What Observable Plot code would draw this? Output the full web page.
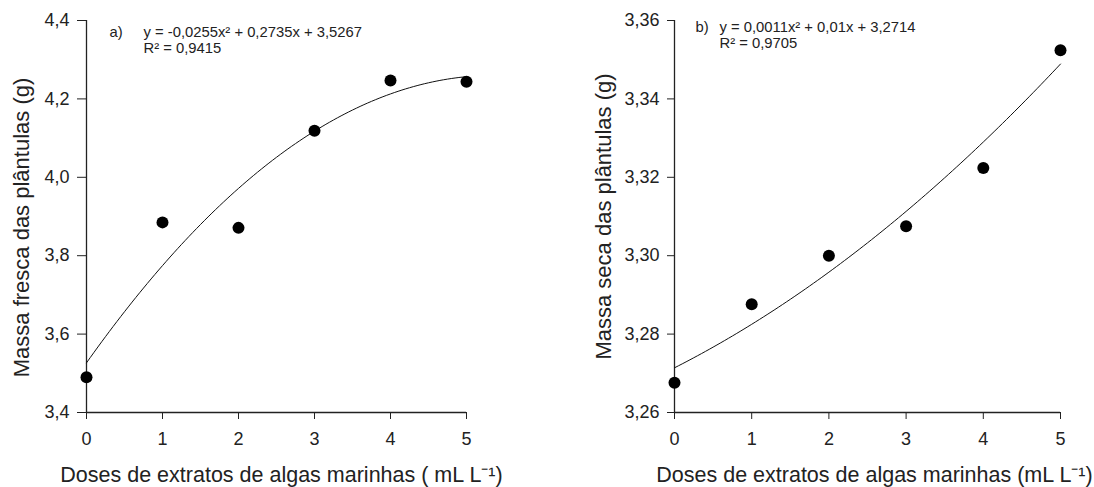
<!DOCTYPE html>
<html><head><meta charset="utf-8">
<script src="https://cdn.jsdelivr.net/npm/d3@7"></script>
<script src="https://cdn.jsdelivr.net/npm/@observablehq/plot@0.6"></script>
<style>
body{margin:0;background:#fff;}
#wrap{display:flex;width:1094px;height:487px;}
svg text{font-family:"Liberation Sans",Arial,sans-serif;}
</style></head><body><div id="wrap"></div>
<script>
const doses = [0, 1, 2, 3, 4, 5];
const fresca = [3.49, 3.885, 3.871, 4.119, 4.247, 4.244];
const seca = [3.2676, 3.2876, 3.300, 3.3075, 3.3224, 3.3524];
const coefA = [-0.0255, 0.2735, 3.5267];
const coefB = [0.0011, 0.01, 3.2714];
const ticksA = [3.4, 3.6, 3.8, 4.0, 4.2, 4.4];
const ticksB = [3.26, 3.28, 3.30, 3.32, 3.34, 3.36];
const xTicks = [0, 1, 2, 3, 4, 5];
const labelsA = ["a)", "y = -0,0255x² + 0,2735x + 3,5267", "R² = 0,9415"];
const labelsB = ["b)", "y = 0,0011x² + 0,01x + 3,2714", "R² = 0,9705"];
const yTitleA = "Massa fresca das plântulas (g)";
const yTitleB = "Massa seca das plântulas (g)";
const xTitleA = "Doses de extratos de algas marinhas ( mL L⁻¹)";
const xTitleB = "Doses de extratos de algas marinhas (mL L⁻¹)";

function panel(o) {
  const pts = doses.map((d, i) => ({x: d, y: o.vals[i]}));
  const curve = d3.range(0, 5.0001, 0.05).map(x => ({x, y: o.coef[0]*x*x + o.coef[1]*x + o.coef[2]}));
  const fmt = d => d.toFixed(o.dec).replace(".", ",");
  const ink = "#222";
  return Plot.plot({
    width: o.width, height: 487,
    marginLeft: o.ml, marginRight: o.mr, marginTop: 20, marginBottom: 75,
    x: {domain: [0, 5]},
    y: {domain: o.domain},
    style: {fontFamily: "Liberation Sans, Arial, sans-serif", color: ink, background: "#fff"},
    marks: [
      Plot.axisX({ticks: xTicks, tickFormat: d => String(d), tickSize: 7, tickPadding: 13, fontSize: 18, label: null, stroke: ink, fill: ink}),
      Plot.axisY({ticks: o.ticks, tickFormat: fmt, tickSize: o.ytick, tickPadding: 8, fontSize: 18, label: null, stroke: ink, fill: ink}),
      Plot.ruleX([0], {stroke: ink, strokeWidth: 1.3}),
      Plot.ruleY([o.domain[0]], {stroke: ink, strokeWidth: 1.3}),
      Plot.line(curve, {x: "x", y: "y", stroke: "#111", strokeWidth: 1}),
      Plot.dot(pts, {x: "x", y: "y", r: 6, fill: "#000", stroke: "none"}),
      Plot.text([o.labels[0]], {text: d => d, frameAnchor: "top-left", textAnchor: "start", lineAnchor: "middle", dx: o.ldx, dy: o.dy1, fontSize: 14.8, fill: ink}),
      Plot.text([o.labels[1]], {text: d => d, frameAnchor: "top-left", textAnchor: "start", lineAnchor: "middle", dx: o.edx, dy: o.dy1, fontSize: 14.8, fill: ink}),
      Plot.text([o.labels[2]], {text: d => d, frameAnchor: "top-left", textAnchor: "start", lineAnchor: "middle", dx: o.edx, dy: o.dy2, fontSize: 14.8, fill: ink}),
      Plot.text([o.yTitle], {text: d => d, frameAnchor: "left", textAnchor: "middle", lineAnchor: "middle", rotate: -90, dx: -o.yoff, dy: o.ydy, fontSize: 22, fill: ink}),
      Plot.text([o.xTitle], {text: d => d, frameAnchor: "bottom", textAnchor: "middle", lineAnchor: "middle", dx: o.xdx, dy: 63, fontSize: 21.5, fill: ink})
    ]
  });
}
const wrap = document.getElementById("wrap");
wrap.appendChild(panel({width: 547, ml: 86, mr: 81, vals: fresca, coef: coefA, domain: [3.4, 4.4], ticks: ticksA, dec: 1, ytick: 9,
  labels: labelsA, ldx: 23, edx: 57, dy1: 12, dy2: 28, yTitle: yTitleA, yoff: 65, ydy: 11, xTitle: xTitleA, xdx: 5}));
wrap.appendChild(panel({width: 547, ml: 127, mr: 34, vals: seca, coef: coefB, domain: [3.26, 3.36], ticks: ticksB, dec: 2, ytick: 7,
  labels: labelsB, ldx: 21, edx: 45, dy1: 7, dy2: 23, yTitle: yTitleB, yoff: 71, ydy: 0, xTitle: xTitleB, xdx: 7}));
</script></body></html>
